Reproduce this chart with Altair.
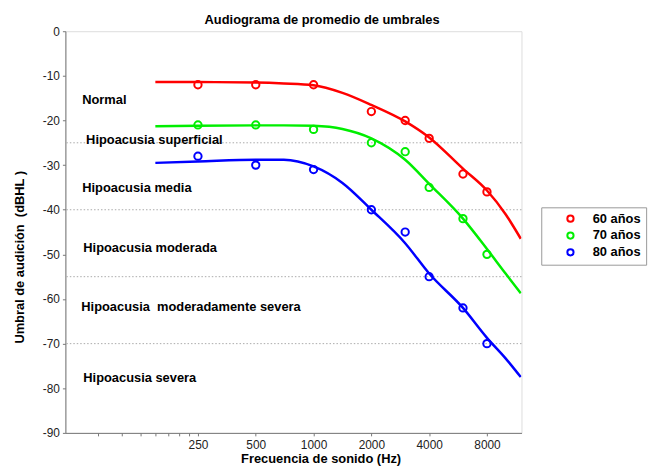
import altair as alt
import pandas as pd

# ---- data ----
series = ["60 años", "70 años", "80 años"]
colors = ["#ff0000", "#00ee00", "#0000ff"]

meas_freq = [250, 500, 1000, 2000, 3000, 4000, 6000, 8000]
meas_60 = [-12, -12, -12, -18, -20, -24, -32, -36]
meas_70 = [-21, -21, -22, -25, -27, -35, -42, -50]
meas_80 = [-28, -30, -31, -40, -45, -55, -62, -70]

fit_freq = [150, 250, 500, 700, 1000, 1414, 2000, 3000, 4000, 6000, 8000, 10000, 12000]
fit_60 = [-11.4, -11.4, -11.5, -11.7, -12.1, -13.8, -16.5, -20.2, -23.8, -30.8, -35.7, -41.0, -46.5]
fit_70 = [-21.3, -21.2, -21.1, -21.1, -21.2, -21.9, -24.0, -28.8, -34.2, -42.0, -48.8, -54.3, -58.7]
fit_80 = [-29.5, -29.2, -28.8, -28.8, -30.3, -34.0, -40.0, -47.5, -54.3, -62.0, -68.7, -73.3, -77.5]

band_limits = [-25, -40, -55, -70]
band_labels = ["Normal", "Hipoacusia superficial", "Hipoacusia media",
               "Hipoacusia moderada", "Hipoacusia\u00a0 moderadamente severa", "Hipoacusia severa"]
band_label_value = [-15.5, -24.4, -35.2, -48.5, -61.8, -77.8]
band_label_freq = [62.4, 65.4, 62.4, 63.2, 61.7, 63.2]

x_ticks = [75, 100, 125, 150, 175, 200, 225, 250, 500, 1000, 2000, 4000, 8000]
y_ticks = [0, -10, -20, -30, -40, -50, -60, -70, -80, -90]

# ---- tables ----
meas = pd.DataFrame(
    [(f, v, s) for s, vals in zip(series, [meas_60, meas_70, meas_80]) for f, v in zip(meas_freq, vals)],
    columns=["freq", "value", "serie"])
fit = pd.DataFrame(
    [(f, v, s) for s, vals in zip(series, [fit_60, fit_70, fit_80]) for f, v in zip(fit_freq, vals)],
    columns=["freq", "value", "serie"])
bands = pd.DataFrame({"value": band_limits})
labels = pd.DataFrame({"freq": band_label_freq, "value": band_label_value, "text": band_labels})

FONT = "Liberation Sans"

xscale = alt.Scale(type="log", domain=[51, 12100], nice=False)
yscale = alt.Scale(domain=[-90, 0], nice=False, zero=False)
cscale = alt.Scale(domain=series, range=colors)

xaxis = alt.Axis(
    values=x_ticks,
    labelExpr="datum.value >= 249 ? format(datum.value, 'd') : ''",
    title="Frecuencia de sonido (Hz)",
    titleX=258, titleY=30, titleBaseline="alphabetic", titleAlign="center",
    titleFontSize=13, titleFontWeight="bold", titleFont=FONT, titleColor="#000000",
    labelFont=FONT, labelFontSize=12, labelColor="#222222", labelPadding=4,
    tickSize=3, tickColor="#777777", domainColor="#777777", grid=False,
)
yaxis = alt.Axis(
    values=y_ticks,
    labelExpr="'' + datum.value",
    title="Umbral de audición\u00a0 (dBHL )",
    titleX=-46, titleY=228, titleAngle=270, titleAlign="center", titleBaseline="middle",
    titleFontSize=13, titleFontWeight="bold", titleFont=FONT, titleColor="#000000",
    labelFont=FONT, labelFontSize=12, labelColor="#222222", labelPadding=3,
    tickSize=3, tickColor="#777777", domainColor="#777777", grid=False,
)

legend = alt.Legend(title=None, labelExpr="datum.label + '\u00a0\u00a0\u00a0\u00a0'")

rules = alt.Chart(bands).mark_rule(strokeDash=[1.5, 2], color="#aaaaaa", strokeWidth=1).encode(
    y=alt.Y("value:Q", scale=yscale, axis=yaxis)
)

lines = alt.Chart(fit).mark_line(interpolate="monotone", strokeWidth=2.5, clip=True).encode(
    x=alt.X("freq:Q", scale=xscale, axis=xaxis),
    y=alt.Y("value:Q", scale=yscale, axis=yaxis),
    color=alt.Color("serie:N", scale=cscale, legend=legend),
    detail="serie:N",
)

points = alt.Chart(meas).mark_point(shape="circle", filled=False, size=55, strokeWidth=2,
                                    opacity=1).encode(
    x=alt.X("freq:Q", scale=xscale, axis=xaxis),
    y=alt.Y("value:Q", scale=yscale, axis=yaxis),
    color=alt.Color("serie:N", scale=cscale, legend=legend),
)

texts = alt.Chart(labels).mark_text(
    align="left", baseline="middle", font=FONT, fontSize=13, fontWeight="bold", color="#000000"
).encode(
    x=alt.X("freq:Q", scale=xscale, axis=xaxis),
    y=alt.Y("value:Q", scale=yscale, axis=yaxis),
    text="text:N",
)

chart = alt.layer(rules, lines, points, texts).properties(
    width=461, height=406,
    title=alt.TitleParams("Audiograma de promedio de umbrales", font=FONT, fontSize=13,
                          fontWeight="bold", color="#000000", anchor="middle", frame="group",
                          dx=29, offset=-2),
    autosize=alt.AutoSizeParams(type="none"),
    padding={"left": 58, "top": 21, "right": 139, "bottom": 31},
).configure_view(stroke=None).configure(background="white").configure_legend(
    orient="none", legendX=481, legendY=178,
    padding=5, strokeColor="#999999",
    labelFont=FONT, labelFontSize=13, labelFontWeight="bold", labelColor="#000000",
    symbolType="circle", symbolSize=40, symbolStrokeWidth=2, symbolOpacity=1,
    symbolOffset=18, labelOffset=16, rowPadding=2,
)

chart.save("out.html", embed_options={"renderer": "svg", "actions": False})
